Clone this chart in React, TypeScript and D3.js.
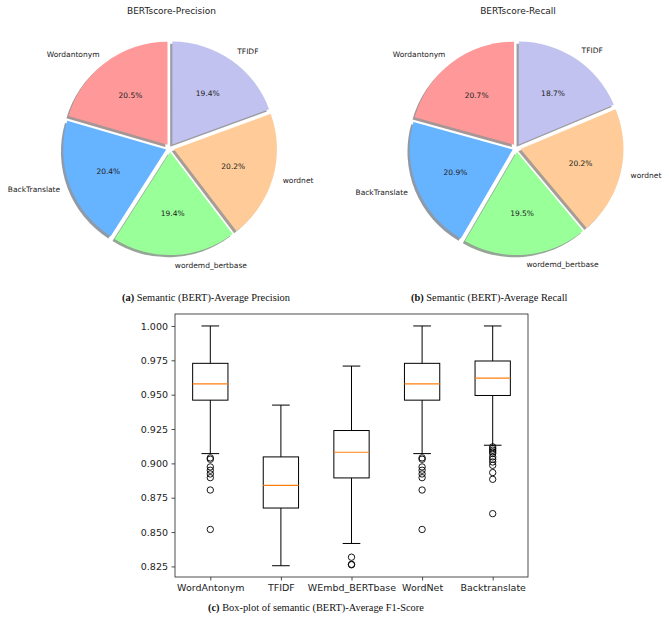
import React, { useEffect, useRef } from 'react';
import * as d3 from 'd3';

// pie slices (same order for both pies)
const pieLabels = ['Wordantonym', 'BackTranslate', 'wordemd_bertbase', 'wordnet', 'TFIDF'];
const pieColors = ['#ff9999', '#66b3ff', '#99ff99', '#ffcc99', '#c2c2f0'];
const precisionShares = [20.5, 20.4, 19.4, 20.2, 19.4];
const recallShares = [20.7, 20.9, 19.5, 20.2, 18.7];

// box plot summary per method
const boxCategories = ['WordAntonym', 'TFIDF', 'WEmbd_BERTbase', 'WordNet', 'Backtranslate'];
const whiskerLow = [0.9071, 0.8255, 0.8417, 0.9071, 0.9132];
const quartile1 = [0.946, 0.8675, 0.8894, 0.946, 0.9494];
const medians = [0.9579, 0.884, 0.9081, 0.9579, 0.962];
const quartile3 = [0.9728, 0.9047, 0.9239, 0.9728, 0.9745];
const whiskerHigh = [1.0, 0.9424, 0.9708, 1.0, 1.0];
const outliers = [
  [0.904, 0.903, 0.8974, 0.895, 0.8923, 0.8896, 0.8806, 0.8519],
  [],
  [0.8317, 0.8265, 0.8262],
  [0.904, 0.903, 0.8974, 0.895, 0.8923, 0.8896, 0.8806, 0.8519],
  [0.912, 0.9108, 0.9096, 0.9084, 0.9072, 0.9047, 0.903, 0.901, 0.8986, 0.8933, 0.8884, 0.8634],
];
const yTicks = [0.825, 0.85, 0.875, 0.9, 0.925, 0.95, 0.975, 1.0];

const W = 669;
const H = 622;
const sans = '"DejaVu Sans", sans-serif';
const serif = '"Liberation Serif", "Times New Roman", serif';

const App = () => {
  const svgRef = useRef<SVGSVGElement>(null);

  useEffect(() => {
    const svg = d3.select(svgRef.current);
    svg.selectAll('*').remove();

    const drawPie = (cx: number, cy: number, title: string, shares: number[]) => {
      const r = 103;
      const explode = 0.04 * r;
      const g = svg.append('g').attr('transform', `translate(${cx},${cy})`);

      g.append('text')
        .attr('x', 1.5).attr('y', -134)
        .attr('text-anchor', 'middle')
        .attr('font-family', sans).attr('font-size', 9)
        .attr('fill', '#222')
        .text(title);

      // counter-clockwise from 12 o'clock
      const arcs = d3.pie<number>().sort(null).startAngle(0).endAngle(-2 * Math.PI)(shares);
      const arc = d3.arc<d3.PieArcDatum<number>>().innerRadius(0).outerRadius(r);
      const mid = (d: d3.PieArcDatum<number>) => (d.startAngle + d.endAngle) / 2;
      const off = (d: d3.PieArcDatum<number>, dist: number) => [Math.sin(mid(d)) * dist, -Math.cos(mid(d)) * dist];

      // shadows below every wedge
      g.selectAll('path.shadow')
        .data(arcs)
        .enter()
        .append('path')
        .attr('class', 'shadow')
        .attr('d', d => arc(d))
        .attr('transform', d => {
          const [ox, oy] = off(d, explode);
          return `translate(${ox - 2.2},${oy + 2.2})`;
        })
        .attr('fill', (d, i) => {
          const c = d3.rgb(pieColors[i]);
          return d3.rgb(c.r * 0.3, c.g * 0.3, c.b * 0.3).toString();
        })
        .attr('opacity', 0.5);

      g.selectAll('path.wedge')
        .data(arcs)
        .enter()
        .append('path')
        .attr('class', 'wedge')
        .attr('d', d => arc(d))
        .attr('transform', d => {
          const [ox, oy] = off(d, explode);
          return `translate(${ox},${oy})`;
        })
        .attr('fill', (d, i) => pieColors[i]);

      g.selectAll('text.pct')
        .data(arcs)
        .enter()
        .append('text')
        .attr('class', 'pct')
        .attr('x', d => off(d, explode + 0.6 * r)[0])
        .attr('y', d => off(d, explode + 0.6 * r)[1])
        .attr('text-anchor', 'middle')
        .attr('dominant-baseline', 'central')
        .attr('font-family', sans).attr('font-size', 7.5)
        .attr('fill', '#222')
        .text(d => `${d.data.toFixed(1)}%`);

      g.selectAll('text.lbl')
        .data(arcs)
        .enter()
        .append('text')
        .attr('class', 'lbl')
        .attr('x', d => off(d, explode + 1.1 * r)[0])
        .attr('y', d => off(d, explode + 1.1 * r)[1])
        .attr('text-anchor', d => (off(d, 1)[0] < 0 ? 'end' : 'start'))
        .attr('dominant-baseline', 'central')
        .attr('font-family', sans).attr('font-size', 7.5)
        .attr('fill', '#222')
        .text((d, i) => pieLabels[i]);
    };

    drawPie(170, 148, 'BERTscore-Precision', precisionShares);
    drawPie(516.5, 148, 'BERTscore-Recall', recallShares);

    const caption = (x: number, y: number, tag: string, text: string) => {
      const t = svg.append('text')
        .attr('x', x).attr('y', y)
        .attr('font-family', serif).attr('font-size', 10.4)
        .attr('dominant-baseline', 'central')
        .attr('fill', '#111');
      t.append('tspan').attr('font-weight', 'bold').text(tag);
      t.append('tspan').text(' ' + text);
    };
    caption(122, 297, '(a)', 'Semantic (BERT)-Average Precision');
    caption(411, 297, '(b)', 'Semantic (BERT)-Average Recall');

    // box plot
    const left = 175, right = 528, top = 314, bottom = 577;
    const x = d3.scaleLinear().domain([0.5, 5.5]).range([left, right]);
    const y = d3.scaleLinear().domain([0.8173, 1.0087]).range([bottom, top]);
    const bw = x(1.25) - x(1);
    const cw = x(1.125) - x(1);

    const bp = svg.append('g').attr('fill', 'none').attr('stroke', '#000').attr('stroke-width', 1);
    boxCategories.forEach((c, i) => {
      const cx = x(i + 1);
      bp.append('line').attr('x1', cx).attr('x2', cx).attr('y1', y(quartile3[i])).attr('y2', y(whiskerHigh[i]));
      bp.append('line').attr('x1', cx).attr('x2', cx).attr('y1', y(quartile1[i])).attr('y2', y(whiskerLow[i]));
      bp.append('line').attr('x1', cx - cw).attr('x2', cx + cw).attr('y1', y(whiskerHigh[i])).attr('y2', y(whiskerHigh[i]));
      bp.append('line').attr('x1', cx - cw).attr('x2', cx + cw).attr('y1', y(whiskerLow[i])).attr('y2', y(whiskerLow[i]));
      bp.append('rect')
        .attr('x', cx - bw).attr('width', 2 * bw)
        .attr('y', y(quartile3[i])).attr('height', y(quartile1[i]) - y(quartile3[i]));
      bp.append('line')
        .attr('x1', cx - bw).attr('x2', cx + bw)
        .attr('y1', y(medians[i])).attr('y2', y(medians[i]))
        .attr('stroke', '#ff7f0e').attr('stroke-width', 1.2);
      bp.selectAll(null)
        .data(outliers[i])
        .enter()
        .append('circle')
        .attr('cx', cx).attr('cy', d => y(d)).attr('r', 3.2)
        .attr('stroke-width', 0.9);
    });

    const axisG = svg.append('g');
    axisG.append('g')
      .attr('transform', `translate(${left},0)`)
      .call(d3.axisLeft(y).tickValues(yTicks).tickFormat(d3.format('.3f')).tickSize(3.5).tickPadding(3.5).tickSizeOuter(0));
    axisG.append('g')
      .attr('transform', `translate(0,${bottom})`)
      .call(d3.axisBottom(x).tickValues([1, 2, 3, 4, 5]).tickFormat((d, i) => boxCategories[i]).tickSize(3.5).tickPadding(3.5).tickSizeOuter(0));
    axisG.selectAll('.domain').remove();
    axisG.selectAll('text').attr('font-family', sans).attr('font-size', 9.5).attr('fill', '#222');
    axisG.selectAll('line').attr('stroke', '#222').attr('stroke-width', 0.8);

    svg.append('rect')
      .attr('x', left).attr('y', top)
      .attr('width', right - left).attr('height', bottom - top)
      .attr('fill', 'none').attr('stroke', '#222').attr('stroke-width', 0.8);

    caption(208, 607, '(c)', 'Box-plot of semantic (BERT)-Average F1-Score');
  }, []);

  return (
    <svg
      ref={svgRef}
      width={W}
      height={H}
      style={{ position: 'absolute', left: 0, top: 0, background: '#fff' }}
    />
  );
};

export default App;
